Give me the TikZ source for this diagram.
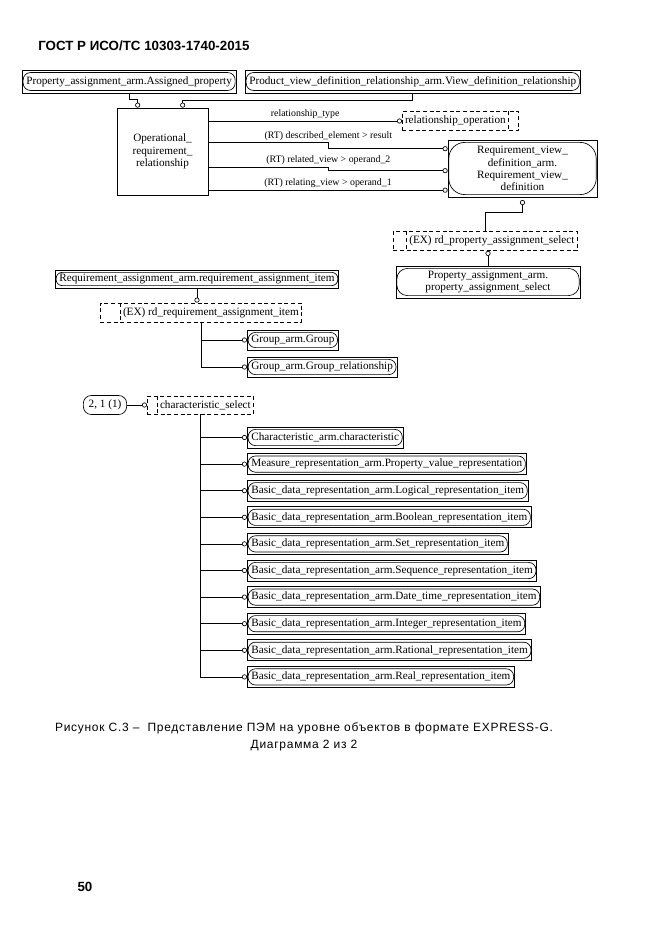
\documentclass[tikz,border=0pt]{standalone}
\usepackage{fontspec}
\setmainfont{Liberation Serif}
\setsansfont{Liberation Sans}
\newfontfamily\capfont[LetterSpace=6]{Liberation Sans}
\usetikzlibrary{positioning}
\usetikzlibrary{arrows.meta}

\begin{document}
\begin{tikzpicture}
  [x=0.75pt, y=-0.75pt, line width=0.5pt,
   ring/.tip={Circle[open, length=3.8pt, width=3.8pt]},
   gtext/.style={font=\fontsize{8.4}{9.2}\selectfont},
   armbox/.style={gtext, draw, anchor=west, inner xsep=3pt, inner ysep=2pt,
     minimum height=15.75pt,
     path picture={\draw[rounded corners=#1]
       ([xshift=.6pt, yshift=-1.8pt]path picture bounding box.north west) rectangle
       ([xshift=-.6pt, yshift=1.8pt]path picture bounding box.south east);}},
   armbox/.default=5.5pt,
   selbox/.style={gtext, draw, dash pattern=on 3pt off 2pt, anchor=west,
     inner xsep=2pt, minimum height=12.5pt,
     execute at begin node={\hspace*{#1}},
     path picture={\draw[dash pattern=on 3pt off 2pt]
       ([xshift=#1]path picture bounding box.north west) --
       ([xshift=#1]path picture bounding box.south west);}},
   selbox/.default=8pt,
   selboxr/.style={gtext, draw, dash pattern=on 3pt off 2pt, anchor=west,
     inner xsep=2pt, minimum height=13.5pt,
     execute at end node={\hspace*{#1}},
     path picture={\draw[dash pattern=on 3pt off 2pt]
       ([xshift=-#1]path picture bounding box.north east) --
       ([xshift=-#1]path picture bounding box.south east);}},
   selboxr/.default=7.5pt,
   lbl/.style={font=\fontsize{7.4}{9}\selectfont, inner sep=1.5pt}]
  \useasboundingbox (0,0) rectangle (661,935);

  \node[anchor=west, inner sep=0pt, font=\sffamily\bfseries\fontsize{10}{12}\selectfont] (head) at (38,46) {ГОСТ Р ИСО/ТС 10303-1740-2015};

  % upper group
  \node[armbox, minimum height=17pt] (asgprop) at (22,81.5) {Property\_assignment\_arm.Assigned\_property};
  \node[armbox, minimum height=17pt] (vdrel) at (245,81.5) {Product\_view\_definition\_relationship\_arm.View\_definition\_relationship};
  \node[draw, gtext, align=center, minimum width=68.25pt, minimum height=65.25pt] (oprel) at (162.5,151.5) {Operational\_\\requirement\_\\relationship};
  \node[selboxr, minimum height=13.5pt] (relop) at (402,121) {relationship\_operation};
  \node[armbox=12pt, anchor=center, align=center, inner xsep=0pt, minimum width=111.75pt, minimum height=42.75pt] (reqview) at (522.5,168.5) {Requirement\_view\_\\definition\_arm.\\Requirement\_view\_\\definition};
  \node[selbox=10pt] (rdpas) at (393,241) {(EX) rd\_property\_assignment\_select};
  \node[armbox=8pt, anchor=center, align=center, minimum width=138pt, minimum height=24pt] (pasel) at (488,282) {Property\_assignment\_arm.\\property\_assignment\_select};

  \draw[-ring] (asgprop.south) -- ++(0,6) -| ([xshift=15.75pt]oprel.north west);
  \draw[-ring] (vdrel.south) -- ++(0,7) -| ([xshift=49.5pt]oprel.north west);
  \draw[-ring] (oprel.east |- relop.west) -- node[lbl, above] {relationship\_type} (relop.west);
  \draw[-ring] ([yshift=-26.25pt]oprel.north east) -- ++(120,0) node[lbl, above] {(RT) described\_element > result} |- ([yshift=-6.75pt]reqview.north west);
  \draw[-ring] ([yshift=-44.6pt]oprel.north east) -- ++(120,0) node[lbl, above] {(RT) related\_view > operand\_2} |- ([yshift=-23.25pt]reqview.north west);
  \draw[-ring] ([yshift=-61.875pt]oprel.north east) -- node[lbl, above] {(RT) relating\_view > operand\_1} ([yshift=-37.875pt]reqview.north west);
  \draw[ring-] ([yshift=-2pt]reqview.south) -- ++(0,12) -| (rdpas.north);
  \draw[ring-] (pasel.north |- rdpas.south) -- (pasel.north);

  % requirement assignment item
  \node[armbox=4.5pt, minimum height=13.5pt] (raitem) at (55,279) {Requirement\_assignment\_arm.requirement\_assignment\_item};
  \node[selbox=15pt, minimum height=14pt] (rdrai) at (100,312.5) {(EX) rd\_requirement\_assignment\_item};
  \node[armbox, minimum height=15pt] (grp) at (247,340) {Group\_arm.Group};
  \node[armbox, minimum height=15pt] (grprel) at (247,367) {Group\_arm.Group\_relationship};

  \draw[-ring] (raitem.south) -- (raitem.south |- rdrai.north);
  \draw[-ring] (rdrai.south) |- (grp.west);
  \draw[-ring] (rdrai.south) |- (grprel.west);

  % characteristic select
  \node[gtext, draw, rounded corners=6pt, minimum height=12pt, inner xsep=4pt] (pgref) at (105,405) {2, 1 (1)};
  \node[selbox=7.5pt, minimum height=11.5pt] (charsel) at (147,405) {characteristic\_select};
  \node[armbox] (chr) at (247,437.5) {Characteristic\_arm.characteristic};
  \node[armbox, below=3.7pt of chr.south west, anchor=north west] (pvrep) {Measure\_representation\_arm.Property\_value\_representation};
  \node[armbox, below=3.7pt of pvrep.south west, anchor=north west] (logrep) {Basic\_data\_representation\_arm.Logical\_representation\_item};
  \node[armbox, below=3.7pt of logrep.south west, anchor=north west] (boolrep) {Basic\_data\_representation\_arm.Boolean\_representation\_item};
  \node[armbox, below=3.7pt of boolrep.south west, anchor=north west] (setrep) {Basic\_data\_representation\_arm.Set\_representation\_item};
  \node[armbox, below=3.7pt of setrep.south west, anchor=north west] (seqrep) {Basic\_data\_representation\_arm.Sequence\_representation\_item};
  \node[armbox, below=3.7pt of seqrep.south west, anchor=north west] (dtrep) {Basic\_data\_representation\_arm.Date\_time\_representation\_item};
  \node[armbox, below=3.7pt of dtrep.south west, anchor=north west] (intrep) {Basic\_data\_representation\_arm.Integer\_representation\_item};
  \node[armbox, below=3.7pt of intrep.south west, anchor=north west] (ratrep) {Basic\_data\_representation\_arm.Rational\_representation\_item};
  \node[armbox, below=3.7pt of ratrep.south west, anchor=north west] (realrep) {Basic\_data\_representation\_arm.Real\_representation\_item};

  \draw[-ring] (pgref.east) -- (charsel.west);
  \draw[-ring] (charsel.south) |- (chr.west);
  \draw[-ring] (charsel.south) |- (pvrep.west);
  \draw[-ring] (charsel.south) |- (logrep.west);
  \draw[-ring] (charsel.south) |- (boolrep.west);
  \draw[-ring] (charsel.south) |- (setrep.west);
  \draw[-ring] (charsel.south) |- (seqrep.west);
  \draw[-ring] (charsel.south) |- (dtrep.west);
  \draw[-ring] (charsel.south) |- (intrep.west);
  \draw[-ring] (charsel.south) |- (ratrep.west);
  \draw[-ring] (charsel.south) |- (realrep.west);

  % caption
  \node[align=center, font=\capfont\fontsize{9}{12.75}\selectfont] (cap) at (304,736.5) {Рисунок С.3 –\ \ Представление ПЭМ на уровне объектов в формате EXPRESS-G.\\Диаграмма 2 из 2};
  \node[font=\sffamily\bfseries\fontsize{10}{12}\selectfont] (pagenum) at (85,887) {50};
\end{tikzpicture}
\end{document}
